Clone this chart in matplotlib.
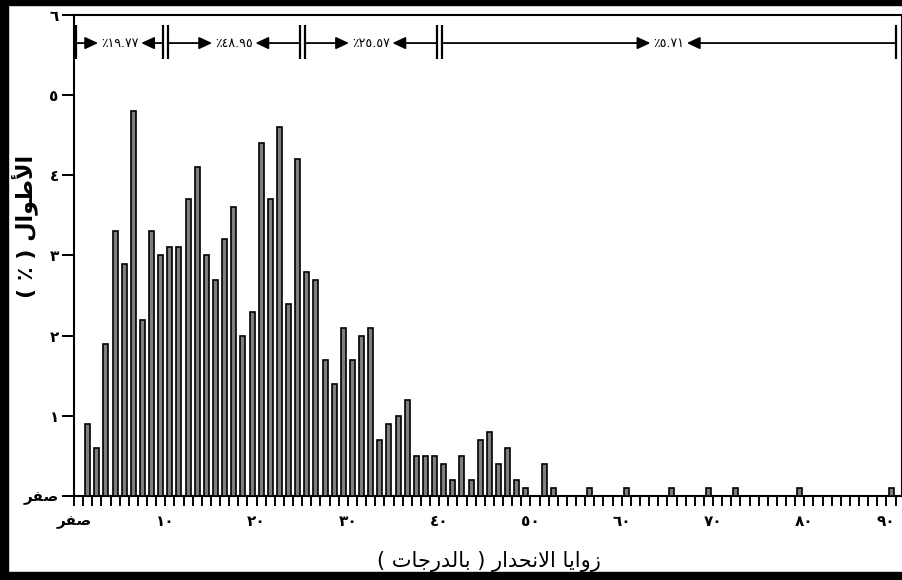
import matplotlib.pyplot as plt
from matplotlib.patches import Rectangle

plt.rcParams['font.family'] = ['DejaVu Sans']

# فئات زوايا الانحدار (بداية كل فئة بالدرجات) ونسبة الأطوال لكل فئة
slope_bins = list(range(1, 50)) + [51, 52, 56, 60, 65, 69, 72, 79, 89]
lengths_pct = [0.9, 0.6, 1.9, 3.3, 2.9, 4.8, 2.2, 3.3, 3.0, 3.1,
               3.1, 3.7, 4.1, 3.0, 2.7, 3.2, 3.6, 2.0, 2.3, 4.4,
               3.7, 4.6, 2.4, 4.2, 2.8, 2.7, 1.7, 1.4, 2.1, 1.7,
               2.0, 2.1, 0.7, 0.9, 1.0, 1.2, 0.5, 0.5, 0.5, 0.4,
               0.2, 0.5, 0.2, 0.7, 0.8, 0.4, 0.6, 0.2, 0.1,
               0.4, 0.1, 0.1, 0.1, 0.1, 0.1, 0.1, 0.1, 0.1]

# المجموعات العليا ونسبها
group_edges = [0, 10, 25, 40, 90]
group_pct = ['١٩.٧٧', '٤٨.٩٥', '٢٥.٥٧', '٥.٧١']

# النصوص بأشكال العرض وبالترتيب المرئي (matplotlib لا يربط الحروف العربية)
ZERO = '\uFEAE\uFED4\uFEBB'  # صفر
x_ticks = [0, 10, 20, 30, 40, 50, 60, 70, 80, 90]
x_labels = [ZERO, '١٠', '٢٠', '٣٠', '٤٠', '٥٠', '٦٠', '٧٠', '٨٠', '٩٠']
y_ticks = [0, 1, 2, 3, 4, 5, 6]
y_labels = [ZERO, '١', '٢', '٣', '٤', '٥', '٦']

w_zawaya = '\uFE8E\uFEF3\uFE8D\uFEED\uFEAF'                   # زوايا
w_inhidar = '\uFEAD\uFE8D\uFEAA\uFEA4\uFEE7\uFEFB\uFE8D'       # الانحدار
w_darajat = '\uFE95\uFE8E\uFE9F\uFEAD\uFEAA\uFEDF\uFE8E\uFE91' # بالدرجات
w_atwal = '\uFEDD\uFE8D\uFEEE\uFEC3\uFEF7\uFE8D'               # الأطوال
x_title = '( ' + w_darajat + ' ) ' + w_inhidar + ' ' + w_zawaya
y_title = '( ٪ ) ' + w_atwal

W, H = 903, 580
fig = plt.figure(figsize=(W / 100, H / 100), dpi=100)
ax = fig.add_axes([74 / W, 84 / H, 828 / W, 481 / H])

centers = [b + 0.5 for b in slope_bins]
ax.bar(centers, lengths_pct, width=0.55, color='#7f7f7f',
       edgecolor='black', linewidth=1.2, zorder=3)

ax.set_xlim(0, 90.7)
ax.set_ylim(0, 6)

ax.set_xticks(x_ticks)
ax.set_xticklabels(x_labels, fontsize=11, fontweight='bold')
ax.get_xticklabels()[-1].set_horizontalalignment('right')
ax.set_xticks(range(0, 91), minor=True)
ax.tick_params(axis='x', which='both', direction='out', length=7,
               width=1.4, pad=6)
ax.set_yticks(y_ticks)
ax.set_yticklabels(y_labels, fontsize=11, fontweight='bold')
ax.tick_params(axis='y', direction='out', length=9, width=1.4, pad=2)
for s in ax.spines.values():
    s.set_linewidth(1.5)

# الأسهم والنسب في الأعلى
y_arr = 5.65
gap = 0.27
arrow = dict(arrowstyle='<|-,head_length=0.6,head_width=0.28',
             color='black', lw=1.3, shrinkA=0, shrinkB=0,
             mutation_scale=13)
for i, pct in enumerate(group_pct):
    a = group_edges[i] + gap
    b = group_edges[i + 1] - gap if i < len(group_pct) - 1 else group_edges[i + 1]
    c = (a + b) / 2
    label = '٪' + pct
    ax.vlines([a, b], 5.45, 5.87, color='black', lw=1.6, zorder=4)
    ax.annotate(label, xy=(a, y_arr), xytext=(c, y_arr), ha='center',
                va='center', fontsize=9, arrowprops=arrow)
    ax.annotate(label, xy=(b, y_arr), xytext=(c, y_arr), ha='center',
                va='center', fontsize=9, color='none', arrowprops=arrow)

fig.text(489 / W, 1 - 562 / H, x_title, ha='center', va='center', fontsize=15)
fig.text(25 / W, 1 - 226 / H, y_title, ha='center', va='center',
         fontsize=16, fontweight='bold', rotation=90)

# الإطار الأسود حول الشكل
for r in [(0, 0, 8 / W, 1), (0, 0, 1, 8 / H), (0, 1 - 5 / H, 1, 5 / H)]:
    fig.patches.append(Rectangle((r[0], r[1]), r[2], r[3],
                                 transform=fig.transFigure,
                                 color='black', zorder=10))

fig.savefig('out.png', dpi=100)
